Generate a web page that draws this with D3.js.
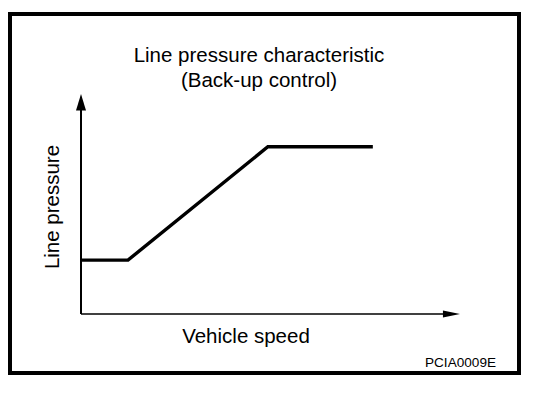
<!DOCTYPE html>
<html>
<head>
<meta charset="utf-8">
<script src="https://cdn.jsdelivr.net/npm/d3@7"></script>
<style>
  html, body { margin: 0; padding: 0; background: #fff; }
  text { font-family: "Liberation Sans", Arial, sans-serif; fill: #000; }
</style>
</head>
<body>
<div id="chart"></div>
<script>
// values (relative units, no scale printed)
const speed = [0, 12.4, 49.3, 77]
const pressure = [24.5, 24.5, 76, 76]
const titleLines = ["Line pressure characteristic", "(Back-up control)"]
const xLabel = "Vehicle speed"
const yLabel = "Line pressure"
const figureCode = "PCIA0009E"

const width = 560, height = 394

const svg = d3.select("#chart").append("svg")
  .attr("width", width)
  .attr("height", height)

// frame
svg.append("rect")
  .attr("x", 10).attr("y", 14)
  .attr("width", 509).attr("height", 359)
  .attr("fill", "none")
  .attr("stroke", "#000")
  .attr("stroke-width", 4)

const x = d3.scaleLinear().domain([0, 100]).range([81, 460])
const y = d3.scaleLinear().domain([0, 100]).range([314, 94])

// axes with arrowheads
const axes = svg.append("g")
axes.append("line")
  .attr("x1", x(0)).attr("x2", x(96))
  .attr("y1", y(0)).attr("y2", y(0))
  .attr("stroke", "#000").attr("stroke-width", 1.5)
axes.append("path")
  .attr("d", `M${x(100)},${y(0)} L${x(95.5)},${y(0) - 3.5} L${x(95.5)},${y(0) + 3.5} Z`)
  .attr("fill", "#000")

axes.append("line")
  .attr("x1", x(0)).attr("x2", x(0))
  .attr("y1", y(0)).attr("y2", y(93))
  .attr("stroke", "#000").attr("stroke-width", 2)
axes.append("path")
  .attr("d", `M${x(0)},${y(100)} L${x(0) - 5},${y(92.5)} L${x(0) + 5},${y(92.5)} Z`)
  .attr("fill", "#000")

// characteristic curve
const line = d3.line()
  .x((d, i) => x(speed[i]))
  .y(d => y(d))

svg.append("path")
  .datum(pressure)
  .attr("d", line)
  .attr("fill", "none")
  .attr("stroke", "#000")
  .attr("stroke-width", 3.4)
  .attr("stroke-linejoin", "miter")

// title
svg.append("g")
  .selectAll("text")
  .data(titleLines)
  .join("text")
    .attr("x", 259)
    .attr("y", (d, i) => 62 + i * 25)
    .attr("text-anchor", "middle")
    .attr("font-size", 20.5)
    .text(d => d)

svg.append("text")
  .attr("x", 246)
  .attr("y", 343)
  .attr("text-anchor", "middle")
  .attr("font-size", 20.5)
  .text(xLabel)

svg.append("text")
  .attr("transform", "translate(59,207) rotate(-90)")
  .attr("text-anchor", "middle")
  .attr("font-size", 20.5)
  .text(yLabel)

svg.append("text")
  .attr("x", 425)
  .attr("y", 367)
  .attr("font-size", 13)
  .attr("textLength", 71)
  .attr("lengthAdjust", "spacingAndGlyphs")
  .text(figureCode)
</script>
</body>
</html>
